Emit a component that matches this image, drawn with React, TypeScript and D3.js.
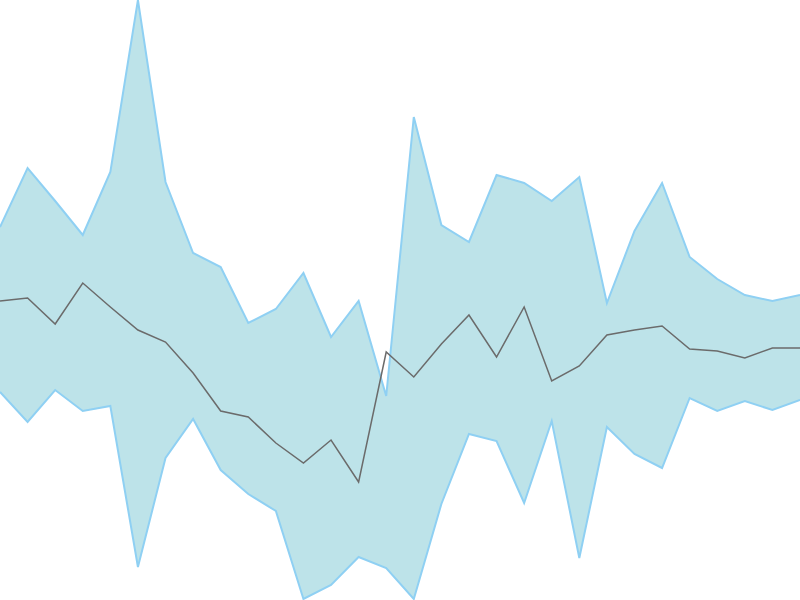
import { useEffect, useRef } from "react";
import * as d3 from "d3";

const W = 800;
const H = 600;

// index of each observation
const steps = d3.range(30);

// (value = height above the bottom edge, px units)
const upper = [
  373, 432, 399, 365, 428, 600, 418, 347, 333, 277,
  291, 327, 263, 299, 204, 483, 375, 358, 425, 417,
  399, 423, 297, 369, 417, 343, 321, 305, 299, 305,
];
const lower = [
  208, 178, 210, 189, 194, 33, 142, 181, 130, 106,
  89, 1, 15, 43, 32, 1, 96, 166, 159, 97,
  179, 42, 173, 146, 132, 202, 189, 199, 190, 200,
];
const middle = [
  299, 302, 276, 317, 293, 270, 258, 227, 189, 183,
  157, 137, 160, 118, 248, 223, 256, 285, 243, 293,
  219, 234, 265, 270, 274, 251, 249, 242, 252, 252,
];

export default function App() {
  const svgRef = useRef<SVGSVGElement | null>(null);

  useEffect(() => {
    const svg = d3.select(svgRef.current);
    svg.selectAll("*").remove();

    const x = d3.scaleLinear().domain([0, steps.length - 1]).range([0, W]);
    const y = d3.scaleLinear().domain([0, 600]).range([H, 0]);

    const band = d3
      .area<number>()
      .x((i) => x(i))
      .y0((i) => y(lower[i]))
      .y1((i) => y(upper[i]));

    svg
      .append("path")
      .datum(steps)
      .attr("d", band)
      .attr("fill", "#bde3e9")
      .attr("stroke", "none");

    const edge = (vals: number[]) =>
      d3
        .line<number>()
        .x((i) => x(i))
        .y((i) => y(vals[i]));

    [upper, lower].forEach((vals) => {
      svg
        .append("path")
        .datum(steps)
        .attr("d", edge(vals))
        .attr("fill", "none")
        .attr("stroke", "#8fd0f3")
        .attr("stroke-width", 2);
    });

    svg
      .append("path")
      .datum(steps)
      .attr("d", edge(middle))
      .attr("fill", "none")
      .attr("stroke", "#6b6b6b")
      .attr("stroke-width", 1.5);
  }, []);

  return (
    <svg
      ref={svgRef}
      width={W}
      height={H}
      style={{ position: "fixed", left: 0, top: 0, background: "#fff" }}
    />
  );
}
